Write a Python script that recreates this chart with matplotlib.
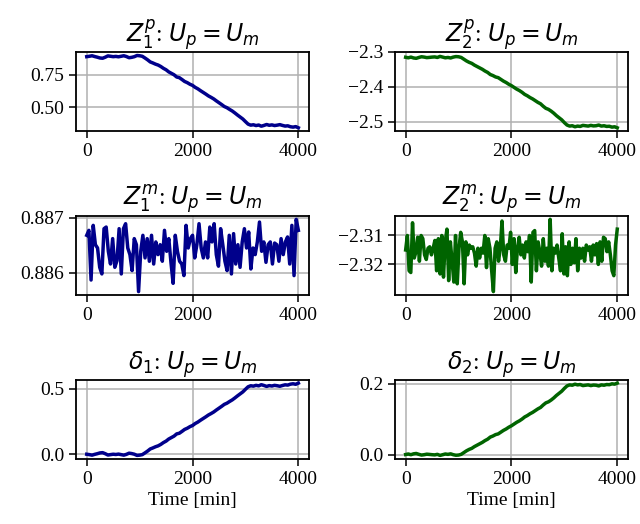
import numpy as np
import matplotlib
matplotlib.use('Agg')
import matplotlib.pyplot as plt

plt.rcParams['font.family'] = ['Liberation Serif', 'DejaVu Serif']
plt.rcParams['font.size'] = 14
plt.rcParams['axes.linewidth'] = 1.3
plt.rcParams['xtick.major.size'] = 5
plt.rcParams['ytick.major.size'] = 5
plt.rcParams['xtick.major.width'] = 1.1
plt.rcParams['ytick.major.width'] = 1.1
plt.rcParams['grid.linewidth'] = 1.1

# parameter estimates from the particle filter, one sample every 50 min
z1_p = [0.886, 0.889, 0.893, 0.887, 0.882, 0.876, 0.874, 0.882, 0.892, 0.889,
        0.886, 0.888, 0.885, 0.889, 0.893, 0.887, 0.878, 0.881, 0.886, 0.895,
        0.893, 0.889, 0.876, 0.862, 0.846, 0.838, 0.829, 0.822, 0.811, 0.797,
        0.786, 0.770, 0.759, 0.748, 0.731, 0.726, 0.712, 0.697, 0.688, 0.676,
        0.667, 0.652, 0.641, 0.627, 0.614, 0.601, 0.587, 0.576, 0.564, 0.549,
        0.535, 0.521, 0.506, 0.497, 0.484, 0.472, 0.457, 0.441, 0.426, 0.411,
        0.391, 0.372, 0.364, 0.367, 0.361, 0.365, 0.356, 0.362, 0.369, 0.363,
        0.366, 0.361, 0.364, 0.368, 0.362, 0.357, 0.359, 0.352, 0.349, 0.353,
        0.344]

z2_p = [-2.3155, -2.3170, -2.3150, -2.3175, -2.3185, -2.3160, -2.3140, -2.3150, -2.3165, -2.3158,
        -2.3150, -2.3145, -2.3160, -2.3130, -2.3150, -2.3170, -2.3160, -2.3175, -2.3150, -2.3135,
        -2.3140, -2.3160, -2.3210, -2.3260, -2.3300, -2.3330, -2.3380, -2.3420, -2.3460, -2.3500,
        -2.3550, -2.3590, -2.3650, -2.3680, -2.3720, -2.3740, -2.3790, -2.3840, -2.3880, -2.3930,
        -2.3970, -2.4020, -2.4070, -2.4110, -2.4160, -2.4220, -2.4260, -2.4310, -2.4350, -2.4400,
        -2.4450, -2.4490, -2.4560, -2.4620, -2.4650, -2.4700, -2.4760, -2.4830, -2.4890, -2.4950,
        -2.5030, -2.5100, -2.5130, -2.5120, -2.5150, -2.5130, -2.5140, -2.5110, -2.5120, -2.5130,
        -2.5110, -2.5125, -2.5120, -2.5100, -2.5130, -2.5120, -2.5140, -2.5135, -2.5160, -2.5150,
        -2.5180]

# model-side estimates (noisy, sampled more densely)
z1_m = [0.88668, 0.88677, 0.88587, 0.88686, 0.88651, 0.88645, 0.88610, 0.88598, 0.88680, 0.88683,
        0.88639, 0.88616, 0.88662, 0.88610, 0.88622, 0.88680, 0.88598, 0.88680, 0.88689, 0.88645,
        0.88633, 0.88604, 0.88662, 0.88651, 0.88566, 0.88639, 0.88668, 0.88627, 0.88662, 0.88621,
        0.88668, 0.88616, 0.88656, 0.88633, 0.88651, 0.88621, 0.88677, 0.88639, 0.88662, 0.88619,
        0.88581, 0.88668, 0.88639, 0.88621, 0.88616, 0.88595, 0.88686, 0.88645,
        0.88662, 0.88668, 0.88627, 0.88651, 0.88689, 0.88645, 0.88627, 0.88656, 0.88627, 0.88683,
        0.88656, 0.88689, 0.88633, 0.88612, 0.88680, 0.88651, 0.88621, 0.88604, 0.88668, 0.88598,
        0.88671, 0.88616, 0.88651, 0.88610, 0.88656, 0.88680, 0.88645, 0.88674, 0.88607, 0.88645,
        0.88633, 0.88656, 0.88692, 0.88639, 0.88656, 0.88619, 0.88651, 0.88656, 0.88616, 0.88654,
        0.88651, 0.88621, 0.88662, 0.88633, 0.88656, 0.88665, 0.88616, 0.88686, 0.88595, 0.88697,
        0.88677]

z2_m = [-2.3150, -2.3100, -2.3222, -2.3228, -2.3056, -2.3178, -2.3156, -2.3106, -2.3189, -2.3100,
        -2.3111, -2.3167, -2.3183, -2.3144, -2.3139, -2.3167, -2.3144, -2.3117, -2.3222, -2.3111,
        -2.3233, -2.3100, -2.3244, -2.3122, -2.3078, -2.3256, -2.3122, -2.3189, -2.3261, -2.3100,
        -2.3267, -2.3144, -2.3089, -2.3122, -2.3267, -2.3122, -2.3167, -2.3133, -2.3144, -2.3139,
        -2.3161, -2.3206, -2.3144, -2.3178, -2.3144, -2.3161, -2.3100, -2.3211, -2.3111, -2.3144,
        -2.3222, -2.3294, -2.3144, -2.3122, -2.3189, -2.3144, -2.3050, -2.3167, -2.3189, -2.3133,
        -2.3144, -2.3089, -2.3200, -2.3111, -2.3228, -2.3144, -2.3106, -2.3167, -2.3133, -2.3178,
        -2.3122, -2.3156, -2.3100, -2.3261, -2.3089, -2.3083, -2.3222, -2.3122, -2.3156, -2.3206,
        -2.3111, -2.3189, -2.3144, -2.3206, -2.3044, -2.3222, -2.3144, -2.3161, -2.3133, -2.3178,
        -2.3222, -2.3094, -2.3233, -2.3139, -2.3239, -2.3122, -2.3200, -2.3144, -2.3194, -2.3111,
        -2.3222, -2.3144, -2.3178, -2.3144, -2.3189, -2.3133, -2.3150, -2.3139, -2.3189, -2.3133,
        -2.3167, -2.3128, -2.3200, -2.3122, -2.3189, -2.3106, -2.3111, -2.3156, -2.3122, -2.3167,
        -2.3222, -2.3239, -2.3133, -2.3078]

# mismatch delta = Z^m - Z^p, every 50 min
delta_1 = [0.000, -0.003, -0.007, -0.001, 0.004, 0.010, 0.012, 0.004, -0.006, -0.003,
           0.000, -0.002, 0.001, -0.003, -0.007, -0.001, 0.008, 0.005, 0.000, -0.009,
           -0.007, -0.003, 0.010, 0.024, 0.040, 0.048, 0.057, 0.064, 0.075, 0.089,
           0.100, 0.116, 0.127, 0.138, 0.155, 0.160, 0.174, 0.189, 0.198, 0.210,
           0.219, 0.234, 0.245, 0.259, 0.272, 0.285, 0.299, 0.310, 0.322, 0.337,
           0.351, 0.365, 0.380, 0.389, 0.402, 0.414, 0.429, 0.445, 0.460, 0.475,
           0.495, 0.514, 0.522, 0.519, 0.525, 0.521, 0.530, 0.524, 0.517, 0.523,
           0.520, 0.525, 0.522, 0.518, 0.524, 0.529, 0.527, 0.534, 0.537, 0.533,
           0.542]

delta_2 = [0.0000, 0.0015, -0.0005, 0.0020, 0.0030, 0.0005, -0.0015, -0.0005, 0.0010, 0.0003,
           -0.0005, -0.0010, 0.0005, -0.0025, -0.0005, 0.0015, 0.0005, 0.0020, -0.0005, -0.0020,
           -0.0015, 0.0005, 0.0055, 0.0105, 0.0145, 0.0175, 0.0225, 0.0265, 0.0305, 0.0345,
           0.0395, 0.0435, 0.0495, 0.0525, 0.0565, 0.0585, 0.0635, 0.0685, 0.0725, 0.0775,
           0.0815, 0.0865, 0.0915, 0.0955, 0.1005, 0.1065, 0.1105, 0.1155, 0.1195, 0.1245,
           0.1295, 0.1335, 0.1405, 0.1465, 0.1495, 0.1545, 0.1605, 0.1675, 0.1735, 0.1795,
           0.1875, 0.1945, 0.1975, 0.1965, 0.1995, 0.1975, 0.1985, 0.1955, 0.1965, 0.1975,
           0.1955, 0.1970, 0.1965, 0.1945, 0.1975, 0.1965, 0.1985, 0.1980, 0.2005, 0.1995,
           0.2025]

titles = [r'$Z_1^p$: $U_p = U_m$', r'$Z_2^p$: $U_p = U_m$',
          r'$Z_1^m$: $U_p = U_m$', r'$Z_2^m$: $U_p = U_m$',
          r'$\delta_1$: $U_p = U_m$', r'$\delta_2$: $U_p = U_m$']
yticks = [[0.50, 0.75], [-2.5, -2.4, -2.3],
          [0.886, 0.887], [-2.32, -2.31],
          [0.0, 0.5], [0.0, 0.2]]
xticks = [0, 2000, 4000]
t_end = 4000

series = [z1_p, z2_p, z1_m, z2_m, delta_1, delta_2]
colors = ['darkblue', 'darkgreen'] * 3

fig, axes = plt.subplots(3, 2, figsize=(6.4, 5.24))
for i, ax in enumerate(axes.flat):
    y = np.array(series[i])
    t = np.linspace(0, t_end, len(y))
    ax.plot(t, y, color=colors[i], lw=2.5)
    ax.set_title(titles[i], fontsize=17, pad=5)
    ax.set_xticks(xticks)
    ax.set_yticks(yticks[i])
    ax.ticklabel_format(axis='y', useOffset=False)
    ax.grid(True)
for ax in axes[2]:
    ax.set_xlabel('Time [min]', labelpad=3)

fig.subplots_adjust(left=0.119, right=0.981, top=0.901, bottom=0.124,
                    wspace=0.37, hspace=1.06)
fig.savefig('out.png', dpi=100)
